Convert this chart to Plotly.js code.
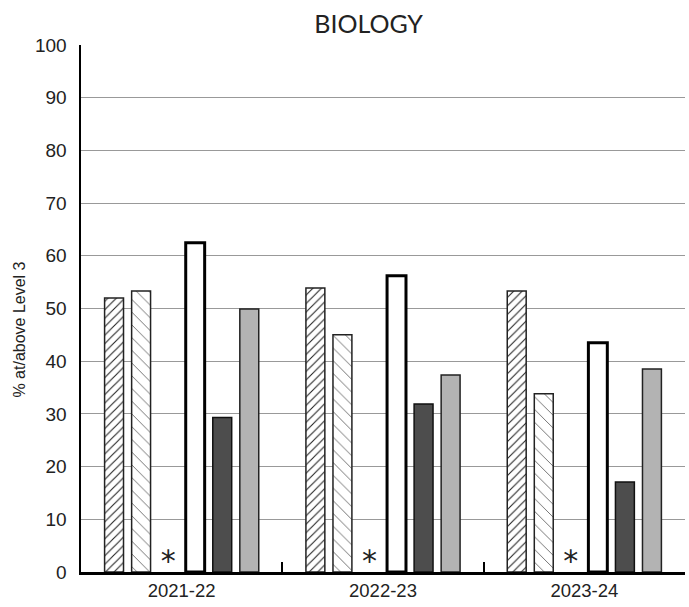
<!DOCTYPE html>
<html>
<head>
<meta charset="utf-8">
<script src="https://cdn.plot.ly/plotly-3.0.1.min.js"></script>
<style>html,body{margin:0;padding:0;background:#fff;}#chart{width:689px;height:607px;}</style>
</head>
<body>
<div id="chart"></div>
<script>
const years = ["2021-22", "2022-23", "2023-24"];
const seriesA = [52.0, 53.9, 53.3];   // diagonal hatched
const seriesB = [53.3, 45.0, 33.8];   // dotted
const seriesC = [0, 0, 0];            // suppressed (*)
const seriesCText = ["*", "*", "*"];
const seriesD = [62.5, 56.2, 43.5];   // white
const seriesE = [29.3, 31.9, 17.1];   // dark gray
const seriesF = [49.9, 37.4, 38.5];   // light gray
const yTicks = [0, 10, 20, 30, 40, 50, 60, 70, 80, 90, 100];

const traces = [
  {type: "bar", x: years, y: seriesA, name: "A",
   marker: {color: "#fff", line: {color: "#222", width: 1.5},
            pattern: {shape: "/", fgcolor: "#222", bgcolor: "#fff", size: 6, solidity: 0.18}}},
  {type: "bar", x: years, y: seriesB, name: "B",
   marker: {color: "#fff", line: {color: "#222", width: 1.5},
            pattern: {shape: "\\", fgcolor: "#666", bgcolor: "#fff", size: 9, solidity: 0.1}}},
  {type: "bar", x: years, y: seriesC, name: "C", text: seriesCText,
   textposition: "outside", cliponaxis: false, constraintext: "none", textangle: 180,
   textfont: {family: "DejaVu Sans, sans-serif", size: 30, color: "#222"},
   marker: {color: "rgba(0,0,0,0)", line: {width: 0}}},
  {type: "bar", x: years, y: seriesD, name: "D",
   marker: {color: "#fff", line: {color: "#000", width: 3}}},
  {type: "bar", x: years, y: seriesE, name: "E",
   marker: {color: "#4d4d4d", line: {color: "#111", width: 1.5}}},
  {type: "bar", x: years, y: seriesF, name: "F",
   marker: {color: "#b3b3b3", line: {color: "#222", width: 1.5}}}
];

const layout = {
  width: 689, height: 607,
  margin: {l: 81, r: 4, t: 45, b: 35},
  paper_bgcolor: "#fff", plot_bgcolor: "#fff",
  showlegend: false,
  barmode: "group", bargap: 0.194, bargroupgap: 0.3,
  title: {text: "BIOLOGY", x: 0.535, xref: "container", y: 0.96, yref: "container",
          yanchor: "middle",
          font: {family: "Lato, Noto Sans, sans-serif", size: 25, color: "#222"}},
  font: {family: "Liberation Sans, Arial, sans-serif", color: "#222"},
  xaxis: {type: "category", showline: true, linecolor: "#000", linewidth: 2.5,
          ticks: "inside", tickson: "boundaries", ticklen: 10, tickwidth: 2, tickcolor: "#000",
          tickfont: {size: 18.5, color: "#222"}, showgrid: false, zeroline: false},
  yaxis: {range: [0, 100], tickvals: yTicks, ticktext: yTicks.map(String),
          showline: true, linecolor: "#000", linewidth: 2.5, ticks: "",
          showgrid: true, gridcolor: "#999", gridwidth: 1, zeroline: false,
          tickfont: {size: 19, color: "#222"}, ticklabelstandoff: 8},
  annotations: [{text: "% at/above Level 3", textangle: -90, showarrow: false,
                 xref: "paper", x: -0.101, xanchor: "center",
                 yref: "paper", y: 0.46, yanchor: "middle",
                 font: {size: 16, color: "#222"}}]
};

Plotly.newPlot("chart", traces, layout, {displayModeBar: false, staticPlot: true});
</script>
</body>
</html>
